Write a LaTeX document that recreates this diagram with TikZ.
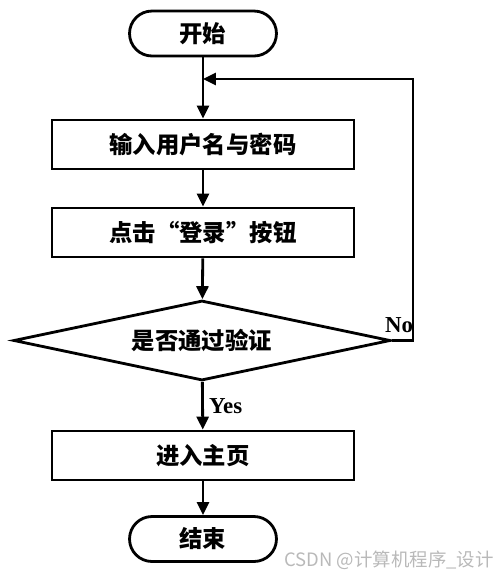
\documentclass[tikz,border=0pt]{standalone}
\usepackage{fontspec}
\newfontfamily\cjk{Noto Sans CJK SC}
\newfontfamily\lat{Liberation Serif}
\usetikzlibrary{shapes.geometric,arrows.meta}

\begin{document}
\begin{tikzpicture}[x=0.02cm,y=-0.02cm,line width=1.6pt,
      >={Triangle[length=2.6mm,width=2.4mm]},
      term/.style={draw, rounded corners=0.45cm, minimum width=2.94cm, minimum height=0.9cm, font=\cjk\bfseries\fontsize{13.3}{16}\selectfont},
      proc/.style={draw, minimum width=6.04cm, minimum height=0.98cm, font=\cjk\bfseries\fontsize{13.3}{16}\selectfont},
      test/.style={draw, diamond, aspect=4.7, inner sep=0pt, minimum width=7.54cm, minimum height=1.6cm, font=\cjk\bfseries\fontsize{13.3}{16}\selectfont},
      lbl/.style={font=\lat\bfseries\fontsize{13}{15}\selectfont, inner sep=1pt}]
      \useasboundingbox (0,0) rectangle (500,583);
      \node (start) [term] at (203,33.5) {开始};
      \node (input) [proc] at (203,144.5) {输入用户名与密码};
      \node (click) [proc] at (203,232.5) {点击“登录”按钮};
      \node (check) [test] at (202,340.5) {是否通过验证};
      \node (home) [proc] at (203,455.5) {进入主页};
      \node (finish) [term] at (203,539) {结束};
      \coordinate (join) at (203,79);
      \coordinate (loop) at (413,79);
      \draw[->] (start) -- (input);
      \draw[->] (input) -- (click);
      \draw[->] (click) -- (check);
      \draw[->] (check) -- (home) node [lbl, midway, right=2pt] {Yes};
      \draw[->] (home) -- (finish);
      \draw[->] (check.east) -| (loop) -- (join);
      \node (no) [lbl] at (399,325) {No};
      \node (mark) [text=gray!55, font=\cjk\fontsize{10.5}{12}\selectfont] at (389,560) {CSDN @计算机程序\_设计};
\end{tikzpicture}
\end{document}
